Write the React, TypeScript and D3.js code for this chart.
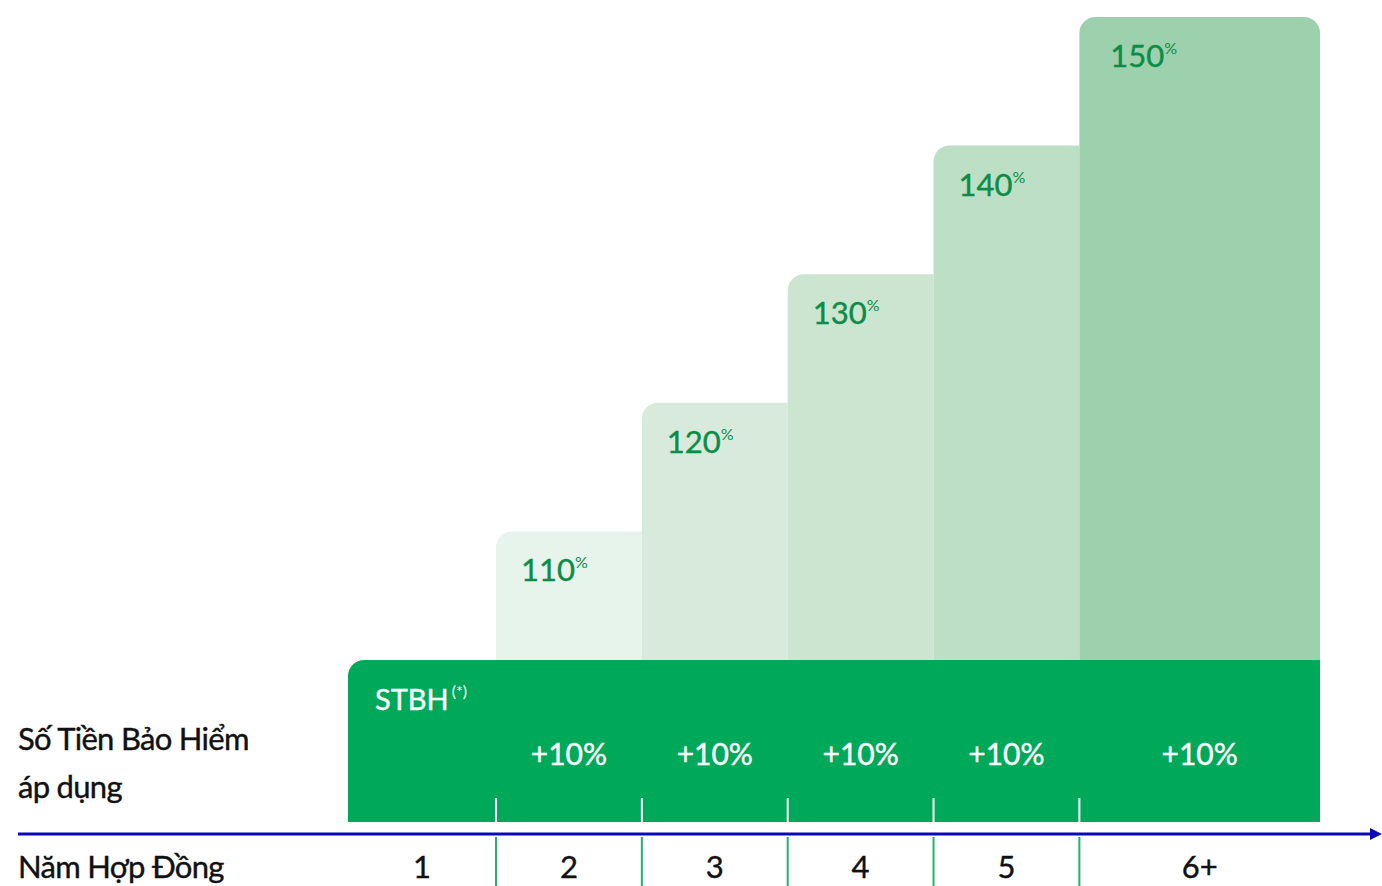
import * as d3 from "d3";

const years = ["1", "2", "3", "4", "5", "6+"];
const spans = [1.015, 1, 1, 1, 1, 1.65];
const percents = [100, 110, 120, 130, 140, 150];
const increments = ["", "+10%", "+10%", "+10%", "+10%", "+10%"];
const barColors = ["#00a85a", "#e6f4ec", "#d8eadc", "#cbe5d0", "#bcdfc6", "#9dd1ad"];

const W = 1382;
const H = 886;
const font = "Lato, 'Noto Sans', sans-serif";

// rect with rounded top corners
function topRounded(x0: number, y0: number, x1: number, y1: number, rl: number, rr: number) {
  const p = d3.path();
  p.moveTo(x0, y1);
  p.lineTo(x0, y0 + rl);
  p.arcTo(x0, y0, x0 + rl, y0, rl);
  p.lineTo(x1 - rr, y0);
  if (rr > 0) p.arcTo(x1, y0, x1, y0 + rr, rr);
  p.lineTo(x1, y1);
  p.closePath();
  return p.toString();
}

export default function App() {
  const edges = d3.cumsum([0, ...spans]);
  const x = d3.scaleLinear().domain([0, d3.sum(spans)]).range([348, 1320]);
  const y = d3.scaleLinear().domain([100, 150]).range([660, 17]);
  const baseBottom = 822;
  const axisY = 834;
  const cols = years.map((yr, i) => ({
    yr,
    x0: x(edges[i]),
    x1: x(edges[i + 1]),
    pct: percents[i],
    inc: increments[i],
  }));
  const last = cols.length - 1;

  return (
    <svg width={W} height={H} style={{ position: "absolute", left: 0, top: 0 }} fontFamily={font}>
      {/* stepped bars above the base */}
      {cols.slice(1).map((c, i) => (
        <g key={c.yr}>
          <path
            d={topRounded(c.x0, y(c.pct), c.x1, y(100), 16, i + 1 === last ? 16 : 0)}
            fill={barColors[i + 1]}
          />
          <text
            x={c.x0 + (i + 1 === last ? 31 : 25)}
            y={y(c.pct) + 50}
            fill="#0b8c47"
            stroke="#0b8c47"
            strokeWidth={0.4}
            fontSize={31}
          >
            {c.pct}
            <tspan fontSize={16} dy={-13} strokeWidth={0}>%</tspan>
          </text>
        </g>
      ))}

      {/* base STBH bar */}
      <path d={topRounded(x(0), y(100), x(d3.sum(spans)), baseBottom, 16, 0)} fill={barColors[0]} />
      <text x={x(0) + 27} y={710} fill="#fff" stroke="#fff" strokeWidth={0.4} fontSize={29}>
        STBH
        <tspan fontSize={16} dx={3} dy={-13} strokeWidth={0}>(*)</tspan>
      </text>
      {cols.map((c) =>
        c.inc ? (
          <text
            key={"inc" + c.yr}
            x={(c.x0 + c.x1) / 2}
            y={765}
            fill="#fff"
            stroke="#fff"
            strokeWidth={0.4}
            fontSize={30}
            textAnchor="middle"
          >
            {c.inc}
          </text>
        ) : null
      )}

      {/* separators */}
      {cols.slice(1).map((c) => (
        <g key={"sep" + c.yr}>
          <line x1={c.x0} x2={c.x0} y1={798} y2={baseBottom} stroke="#fff" strokeWidth={2} />
          <line x1={c.x0} x2={c.x0} y1={837} y2={H} stroke="#1fb466" strokeWidth={2} />
        </g>
      ))}

      {/* axis */}
      <line x1={18} x2={1374} y1={axisY} y2={axisY} stroke="#0a0ab4" strokeWidth={3} />
      <path d={`M${W},${axisY} L1370,${axisY - 6} L1370,${axisY + 6} Z`} fill="#0a0ab4" />

      {cols.map((c) => (
        <text
          key={"yr" + c.yr}
          x={(c.x0 + c.x1) / 2}
          y={878}
          fill="#111"
          stroke="#111"
          strokeWidth={0.4}
          fontSize={31}
          textAnchor="middle"
        >
          {c.yr}
        </text>
      ))}

      {/* left labels */}
      <g fill="#111" stroke="#111" strokeWidth={0.4} fontSize={31} letterSpacing={-0.7}>
        <text x={18} y={750}>Số Tiền Bảo Hiểm</text>
        <text x={18} y={798}>áp dụng</text>
        <text x={18} y={878}>Năm Hợp Đồng</text>
      </g>
    </svg>
  );
}
